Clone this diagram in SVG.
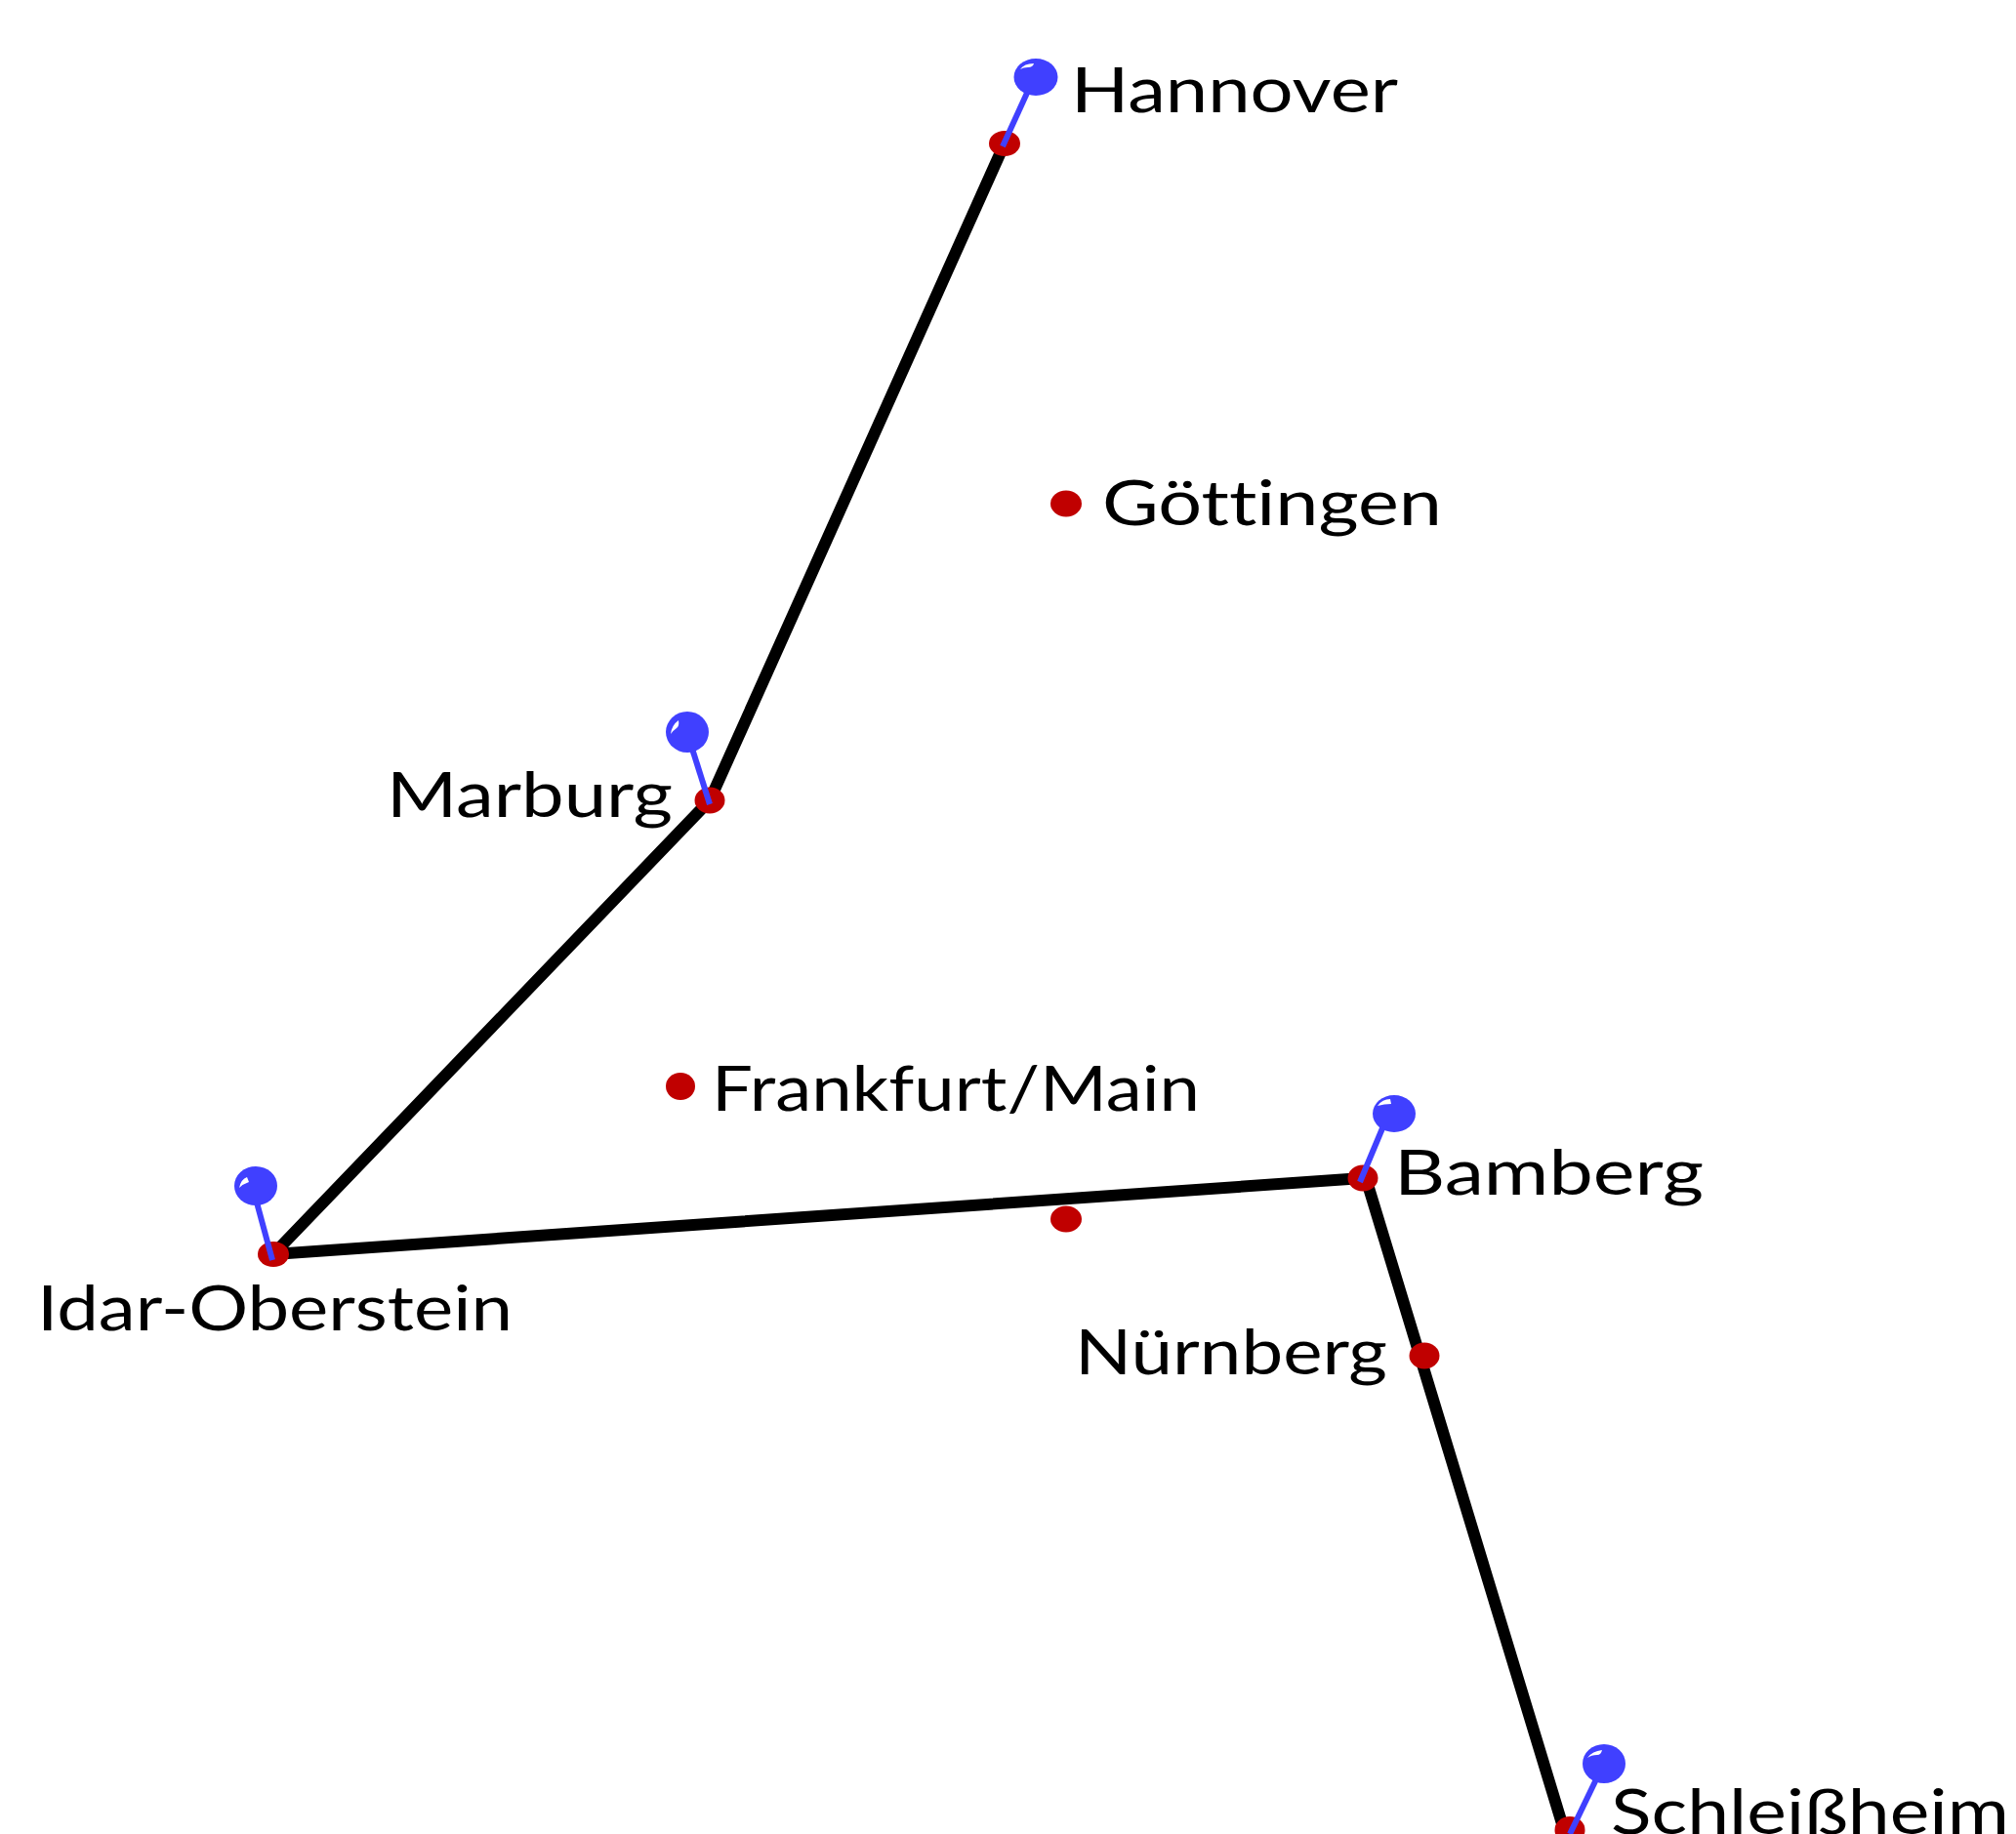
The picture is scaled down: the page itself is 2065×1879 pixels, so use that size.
<svg xmlns="http://www.w3.org/2000/svg" width="2065" height="1879" viewBox="0 0 2065 1879">
<style>
.route{fill:none;stroke:#000;stroke-width:12;stroke-linejoin:round;stroke-linecap:round}
.dot{fill:#c00000}
.stem{stroke:#4040ff;stroke-width:6;fill:none}
.head{fill:#4040ff}
.hi{fill:#fff}
.lbl{font-family:"Lato","Liberation Sans",sans-serif;font-size:63px;fill:#000;font-variant-ligatures:none}
</style>
<rect width="2065" height="1879" fill="#fff"/>
<g id="connectors">
<polyline class="route" points="1029,147 727,820 280,1285 1396,1207"/>
<polyline class="route" points="1399,1207 1602,1875"/>
</g>
<g id="hannover">
<ellipse class="dot" cx="1029" cy="147" rx="16" ry="13"/>
<line class="stem" x1="1027" y1="150" x2="1053" y2="93"/>
<ellipse class="head" cx="1061" cy="79" rx="22.500" ry="19"/>
<path class="hi" d="M1045,71 Q1049,65 1059,65 Q1058,69 1053,69 Q1048,69 1045,71Z"/>
<text class="lbl" x="1097" y="115" textLength="335" lengthAdjust="spacingAndGlyphs">Hannover</text>
</g>
<g id="goettingen">
<ellipse class="dot" cx="1092" cy="516" rx="16" ry="13.500"/>
<text class="lbl" x="1129" y="538" textLength="348" lengthAdjust="spacingAndGlyphs">Göttingen</text>
</g>
<g id="marburg">
<ellipse class="dot" cx="727" cy="820" rx="15.500" ry="13.500"/>
<line class="stem" x1="727" y1="824" x2="709" y2="767"/>
<ellipse class="head" cx="704" cy="750" rx="22" ry="21"/>
<path class="hi" d="M687,752 Q688,743 695,738 Q696,744 693,746 Q690,748 687,752Z"/>
<text class="lbl" x="396" y="837" textLength="293" lengthAdjust="spacingAndGlyphs">Marburg</text>
</g>
<g id="frankfurt">
<ellipse class="dot" cx="697" cy="1113" rx="15" ry="14"/>
<text class="lbl" x="729" y="1138" textLength="500" lengthAdjust="spacingAndGlyphs">Frankfurt/Main</text>
</g>
<g id="idar-oberstein">
<ellipse class="dot" cx="280" cy="1285" rx="16" ry="13"/>
<line class="stem" x1="279" y1="1291" x2="263" y2="1232"/>
<ellipse class="head" cx="262" cy="1215" rx="22" ry="20"/>
<path class="hi" d="M245,1217 Q247,1208 253,1206 L255,1211 Q249,1213 245,1217Z"/>
<text class="lbl" x="38" y="1363" textLength="487" lengthAdjust="spacingAndGlyphs">Idar-Oberstein</text>
</g>
<g id="bamberg">
<ellipse class="dot" cx="1396" cy="1207" rx="15.500" ry="13.500"/>
<line class="stem" x1="1393" y1="1211" x2="1416" y2="1156"/>
<ellipse class="head" cx="1428" cy="1141" rx="22" ry="19"/>
<path class="hi" d="M1411,1133 Q1416,1126 1424,1126 L1425,1131 Q1418,1131 1411,1133Z"/>
<text class="lbl" x="1428" y="1224" textLength="317" lengthAdjust="spacingAndGlyphs">Bamberg</text>
</g>
<g id="unnamed">
<ellipse class="dot" cx="1092" cy="1249" rx="16" ry="13.500"/>
</g>
<g id="nuernberg">
<ellipse class="dot" cx="1459" cy="1389" rx="15.500" ry="13.500"/>
<text class="lbl" x="1101" y="1408" textLength="320" lengthAdjust="spacingAndGlyphs">Nürnberg</text>
</g>
<g id="schleissheim">
<ellipse class="dot" cx="1608" cy="1875" rx="15.500" ry="14"/>
<line class="stem" x1="1608" y1="1879" x2="1635" y2="1823"/>
<ellipse class="head" cx="1643" cy="1807" rx="22" ry="20"/>
<path class="hi" d="M1626,1801 Q1631,1794 1641,1793 Q1640,1798 1636,1798 Q1630,1798 1626,1801Z"/>
<text class="lbl" x="1650" y="1879" textLength="408" lengthAdjust="spacingAndGlyphs">Schleißheim</text>
</g>
</svg>
